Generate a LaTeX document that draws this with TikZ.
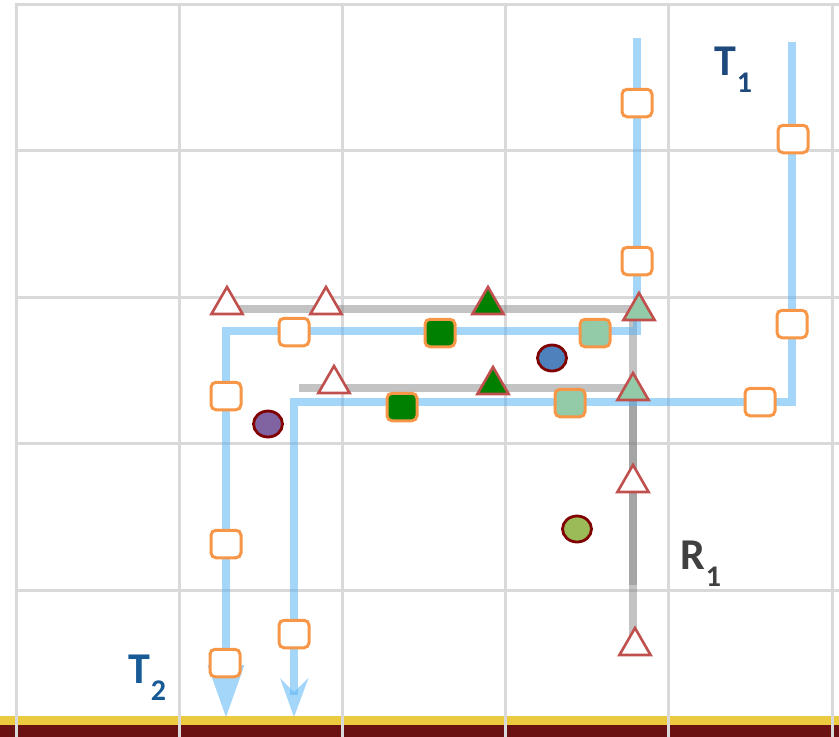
\documentclass[tikz,border=0pt]{standalone}
\usepackage{fontspec}
\setmainfont{Carlito}
\usetikzlibrary{shapes.geometric}
\definecolor{gridc}{RGB}{217,217,217}
\definecolor{barY}{RGB}{236,202,64}
\definecolor{barR}{RGB}{108,17,17}
\definecolor{routeB}{RGB}{90,180,245}
\definecolor{routeG}{RGB}{135,135,135}
\definecolor{orng}{RGB}{247,150,70}
\definecolor{dgreen}{RGB}{0,128,0}
\definecolor{lgreen}{RGB}{147,203,168}
\definecolor{tred}{RGB}{192,80,77}
\definecolor{cblue}{RGB}{79,129,189}
\definecolor{cpurple}{RGB}{128,100,162}
\definecolor{colive}{RGB}{155,187,89}
\definecolor{cborder}{RGB}{128,0,0}
\definecolor{tone}{RGB}{31,73,125}
\definecolor{ttwo}{RGB}{24,90,150}
\definecolor{rone}{RGB}{64,64,64}
\tikzset{
  gridline/.style={draw=gridc, line width=3pt},
  bline/.style={draw=routeB, opacity=0.55, line width=7.5pt, line join=miter},
  bhead/.style={fill=routeB, opacity=0.55},
  gline/.style={draw=routeG, opacity=0.5, line width=7.5pt, line join=miter},
  sqbox/.style={rectangle, rounded corners=5pt, draw=orng, line width=3pt, minimum width=30pt, minimum height=27.5pt, inner sep=0pt, fill=white},
  sqg/.style={sqbox, fill=dgreen},
  sql/.style={sqbox, fill=lgreen},
  trimark/.style={regular polygon, regular polygon sides=3, draw=tred, line width=2.6pt, minimum size=36pt, inner sep=0pt, fill=white},
  trig/.style={trimark, fill=dgreen},
  tril/.style={trimark, fill=lgreen},
  dotmark/.style={ellipse, draw=cborder, line width=2.8pt, minimum width=29pt, minimum height=26pt, inner sep=0pt},
  lab/.style={font=\fontsize{44}{44}\selectfont\bfseries, inner sep=0pt, anchor=base west},
}
\newcommand{\subnum}[1]{\kern1pt\raisebox{-17pt}{\fontsize{30}{30}\selectfont #1}}
\begin{document}
\begin{tikzpicture}[x=1pt,y=-1pt]
\useasboundingbox (0,0) rectangle (839,737);
% bottom bar
\fill[barY] (0,716) rectangle (839,725);
\fill[barR] (0,725) rectangle (839,737);
% grid
\foreach \gx in {16,179,342,505,668,832} \draw[gridline] (\gx,3) -- (\gx,737);
\foreach \gy in {4,150,297,443,590} \draw[gridline] (16,\gy) -- (839,\gy);
% route corner coordinates
\coordinate (a0) at (637,38);
\coordinate (a1) at (637,331);
\coordinate (a2) at (226,331);
\coordinate (a3) at (226,668);
\coordinate (b0) at (792,42);
\coordinate (b1) at (792,402);
\coordinate (b2) at (294,402);
\coordinate (b3) at (294,695);
\coordinate (g0) at (228,309);
\coordinate (g1) at (633,309);
\coordinate (g2) at (633,640);
\coordinate (h0) at (299,388);
\coordinate (h1) at (633,388);
\coordinate (h2) at (633,585);
% gray routes
\draw[gline] (g0) -- (g1) -- (g2);
\draw[gline] (h0) -- (h1) -- (h2);
% blue routes
\draw[bline] (a0) -- (a1) -- (a2) -- (a3);
\draw[bline] (b0) -- (b1) -- (b2) -- (b3);
\fill[bhead] (207.5,665) -- (226,717) -- (244.5,665) -- cycle;
\fill[bhead] (280,678) -- (294,717) -- (308.5,678) -- (294,692) -- cycle;
% orange squares
\node[sqbox] (s1) at (637,103) {};
\node[sqbox] (s2) at (637,261) {};
\node[sqbox] (s3) at (793,139) {};
\node[sqbox] (s4) at (792,324) {};
\node[sqbox] (s5) at (760,402) {};
\node[sqbox] (s6) at (294,332) {};
\node[sqbox] (s7) at (226,396) {};
\node[sqbox] (s8) at (226,544) {};
\node[sqbox] (s9) at (225,663) {};
\node[sqbox] (s10) at (294,634) {};
\node[sqg] (s11) at (440,333) {};
\node[sqg] (s12) at (402,407) {};
\node[sql] (s13) at (595,333) {};
\node[sql] (s14) at (570,403) {};
% triangles
\node[trimark] (t1) at (227,305) {};
\node[trimark] (t2) at (326,305) {};
\node[trimark] (t3) at (334,384) {};
\node[trimark] (t4) at (633,483) {};
\node[trimark] (t5) at (635,646) {};
\node[trig] (t6) at (488,305) {};
\node[trig] (t7) at (493,385) {};
\node[tril] (t8) at (639,311) {};
\node[tril] (t9) at (633,391) {};
% circles
\node[dotmark, fill=cblue] (c1) at (552,358) {};
\node[dotmark, fill=cpurple] (c2) at (268,424) {};
\node[dotmark, fill=colive] (c3) at (577,529) {};
% labels
\node[lab, text=tone] (T1) at (714,75) {T\subnum{1}};
\node[lab, text=ttwo] (T2) at (128,683) {T\subnum{2}};
\node[lab, text=rone] (R1) at (680,569) {R\subnum{1}};
\end{tikzpicture}
\end{document}
